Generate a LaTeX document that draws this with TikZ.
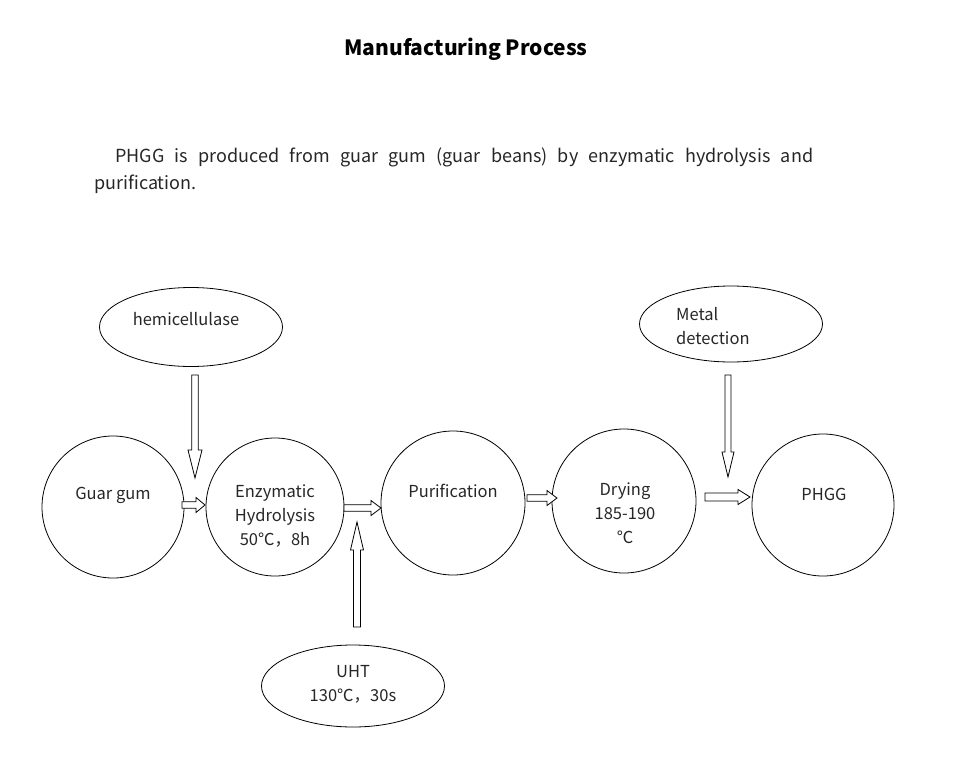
\documentclass[tikz,border=0pt]{standalone}
\usepackage{fontspec}
\setmainfont{Noto Sans CJK SC}
\usetikzlibrary{calc,shapes.geometric}
\tikzset{
  stage/.style={draw, circle, line width=0.8pt, inner sep=0pt},
  input/.style={draw, ellipse, line width=0.8pt, inner sep=0pt},
  lbl/.style={font=\fontsize{16.5}{24}\selectfont, align=center, inner sep=0pt, text=black!85},
  barrow/.style={draw, line width=0.8pt, fill=white, line join=miter},
}
\newcommand\blockarrow[5]{%
  \coordinate (ba-h) at ($(#2)!#5!(#1)$);
  \draw[barrow] ($(#1)!#3!90:(#2)$) -- ($(ba-h)!#3!90:(#2)$) -- ($(ba-h)!#4!90:(#2)$) -- (#2)
    -- ($(ba-h)!#4!-90:(#2)$) -- ($(ba-h)!#3!-90:(#2)$) -- ($(#1)!#3!-90:(#2)$) -- cycle;}
\begin{document}
\begin{tikzpicture}[x=1pt,y=-1pt]
\useasboundingbox (0,0) rectangle (956,779);
% title and intro
\node[font=\fontsize{21}{24}\selectfont\bfseries, inner sep=0pt] (title) at (466,49) {Manufacturing Process};
\node[font=\fontsize{18}{27}\selectfont, anchor=west, inner sep=0pt, text=black!85] (intro1) at (115,157)
  {\makebox[698pt][s]{PHGG is produced from guar gum (guar beans) by enzymatic hydrolysis and}};
\node[font=\fontsize{18}{27}\selectfont, anchor=west, inner sep=0pt, text=black!85] (intro2) at (94,184) {purification.};
% stages
\node[stage, minimum size=142pt] (guar) at (113,507) {};
\node[stage, minimum size=138pt] (enz) at (275,507) {};
\node[stage, minimum size=144pt] (pur) at (453,503) {};
\node[stage, minimum size=144pt] (dry) at (624,501) {};
\node[stage, minimum size=142pt] (phgg) at (823,505) {};
\node[lbl] (guarT) at (113,495) {Guar gum};
\node[lbl] (enzT) at (275,516) {Enzymatic\\Hydrolysis\\50℃，8h};
\node[lbl] (purT) at (453,491) {Purification};
\node[lbl] (dryT) at (625,513) {Drying\\185-190\\℃};
\node[lbl] (phggT) at (824,494) {PHGG};
% inputs
\node[input, minimum width=183pt, minimum height=79pt] (hemi) at (191,327) {};
\node[input, minimum width=183pt, minimum height=76pt] (metal) at (731,324) {};
\node[input, minimum width=183pt, minimum height=82pt] (uht) at (353,686) {};
\node[lbl] (hemiT) at (186,319) {hemicellulase};
\node[lbl, align=left, anchor=west] (metalT) at (676,326) {Metal\\detection};
\node[lbl] (uhtT) at (353,684) {UHT\\130℃，30s};
% arrow end points
\coordinate (a1s) at (195,375); \coordinate (a1e) at (195,478);
\coordinate (a2s) at (182,505); \coordinate (a2e) at (205,505);
\coordinate (a3s) at (344,508); \coordinate (a3e) at (381,508);
\coordinate (a4s) at (357,627); \coordinate (a4e) at (357,522);
\coordinate (a5s) at (527,498); \coordinate (a5e) at (557,498);
\coordinate (a6s) at (705,497); \coordinate (a6e) at (750,497);
\coordinate (a7s) at (728,375); \coordinate (a7e) at (728,477);
\blockarrow{a1s}{a1e}{3.2pt}{7pt}{28pt}
\blockarrow{a2s}{a2e}{3.3pt}{7.5pt}{9pt}
\blockarrow{a3s}{a3e}{3.3pt}{7.5pt}{10pt}
\blockarrow{a4s}{a4e}{3.5pt}{6.5pt}{28pt}
\blockarrow{a5s}{a5e}{3.3pt}{7.5pt}{10pt}
\blockarrow{a6s}{a6e}{4pt}{7.5pt}{12pt}
\blockarrow{a7s}{a7e}{3pt}{6pt}{25pt}
\end{tikzpicture}
\end{document}
